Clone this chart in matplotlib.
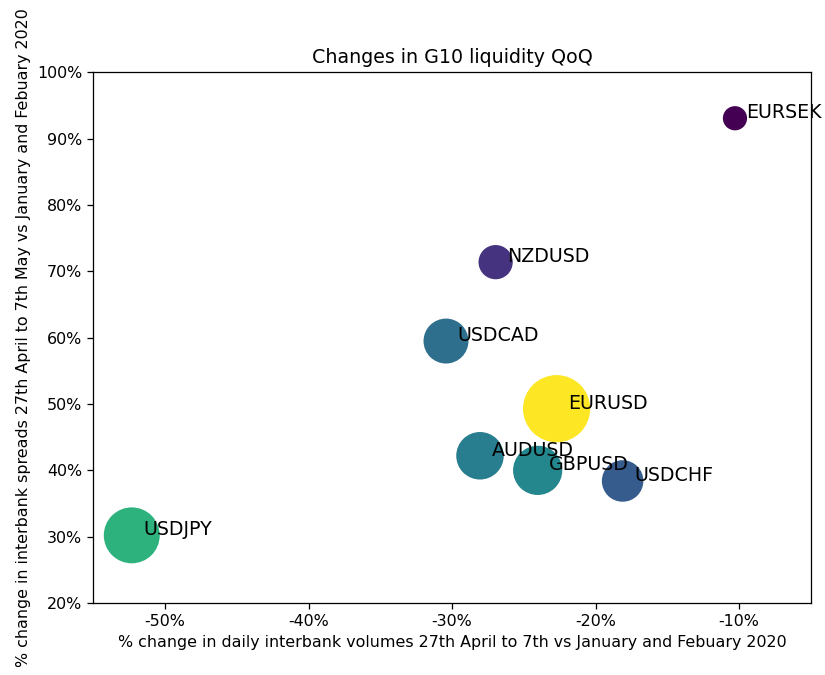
import matplotlib
matplotlib.use('Agg')
import matplotlib.pyplot as plt
from matplotlib.ticker import FuncFormatter

pairs = ['EURSEK', 'NZDUSD', 'USDCAD', 'EURUSD', 'AUDUSD', 'GBPUSD', 'USDCHF', 'USDJPY']
vol_change = [-0.1028, -0.2696, -0.3042, -0.2271, -0.2805, -0.2403, -0.1811, -0.5232]
spread_change = [0.931, 0.714, 0.595, 0.493, 0.422, 0.400, 0.384, 0.302]
bubble = [204, 425, 749, 1718, 841, 905, 636, 1178]

dpi = 114
fig = plt.figure(figsize=(825 / dpi, 675 / dpi), dpi=dpi)
ax = fig.add_axes([0.1131, 0.1067, 0.8696, 0.7859])

ax.scatter(vol_change, spread_change, s=bubble, c=bubble, cmap='viridis')
for name, x, y in zip(pairs, vol_change, spread_change):
    ax.annotate(name, (x + 0.008, y), fontsize=12, annotation_clip=False)

ax.set_xlim(-0.55, -0.05)
ax.set_ylim(0.2, 1.0)
ax.xaxis.set_major_formatter(FuncFormatter(lambda v, p: '{:.0%}'.format(v)))
ax.yaxis.set_major_formatter(FuncFormatter(lambda v, p: '{:.0%}'.format(v)))
ax.set_title('Changes in G10 liquidity QoQ')
ax.set_xlabel('% change in daily interbank volumes 27th April to 7th vs January and Febuary 2020')
ax.set_ylabel('% change in interbank spreads 27th April to 7th May vs January and Febuary 2020')

fig.savefig('out.png', dpi=dpi)
